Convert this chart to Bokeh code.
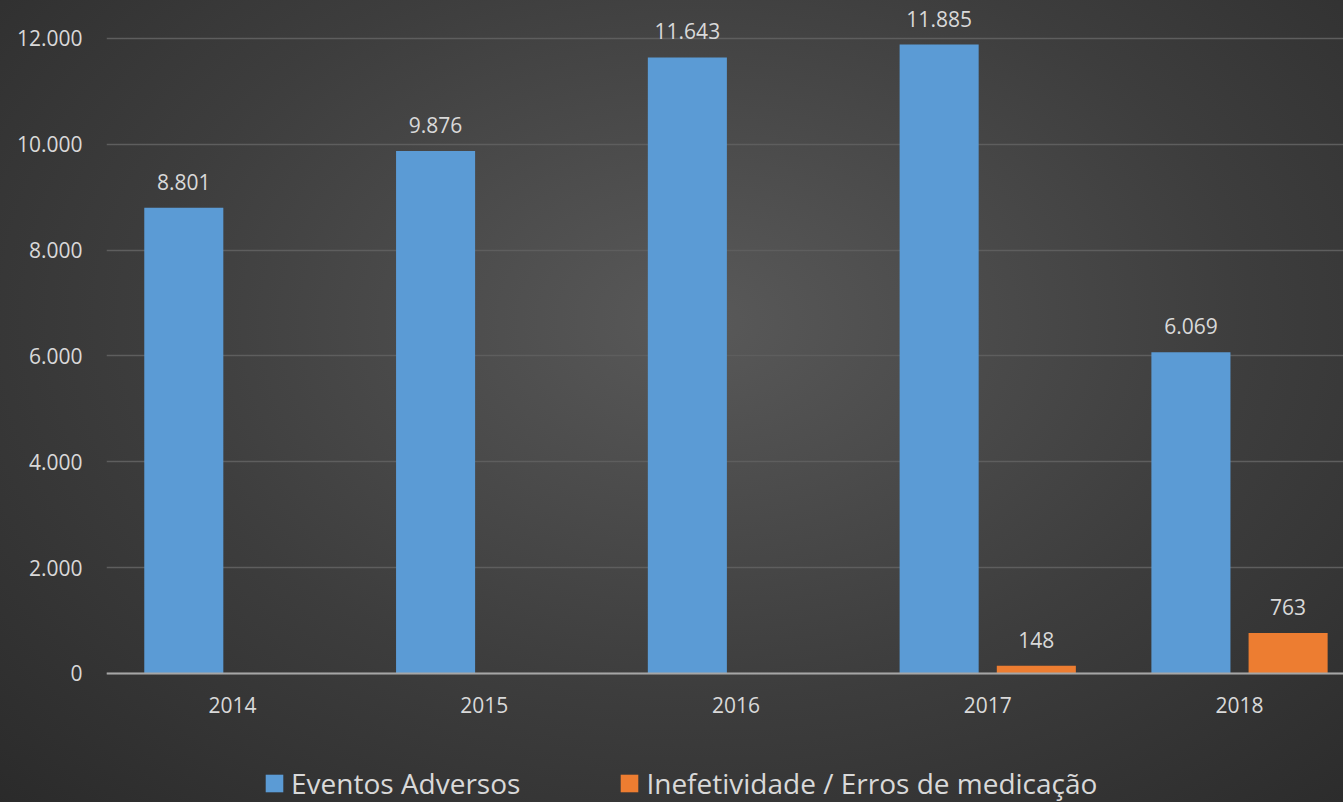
from bokeh.plotting import figure
from bokeh.models import Range1d, FixedTicker, Legend, LegendItem, ColumnDataSource
from bokeh.core.properties import value
from bokeh.embed import file_html
from bokeh.resources import INLINE

years = ["2014", "2015", "2016", "2017", "2018"]
eventos = [8801, 9876, 11643, 11885, 6069]
inefetividade = [0, 0, 0, 148, 763]
y_ticks = [0, 2000, 4000, 6000, 8000, 10000, 12000]
series_names = ["Eventos Adversos", "Inefetividade / Erros de medicação"]

def fmt(v):
    return f"{v:,}".replace(",", ".")

FONT = "Open Sans"
TXT = "#d9d9d9"

xs = list(range(len(years)))
off = 0.193
bw = 0.314

p = figure(width=1343, height=802, output_backend="svg", toolbar_location=None,
           x_range=Range1d(-0.5, 4.413), y_range=Range1d(-2438, 12718),
           min_border_left=106, min_border_right=0, min_border_top=0, min_border_bottom=0)
p.styles = {"background": "radial-gradient(ellipse 75% 85% at 52% 40%, #595959 0%, #3d3d3d 55%, #2a2a2a 100%)"}
p.background_fill_alpha = 0
p.border_fill_alpha = 0
p.outline_line_color = None

src_b = ColumnDataSource(dict(x=[x - off for x in xs], top=eventos, lab=[fmt(v) for v in eventos]))
xo = [x + off for x, v in zip(xs, inefetividade)]
src_o = ColumnDataSource(dict(x=xo, top=inefetividade))
lab_o = ColumnDataSource(dict(x=[x for x, v in zip(xo, inefetividade) if v > 0],
                              top=[v for v in inefetividade if v > 0],
                              lab=[fmt(v) for v in inefetividade if v > 0]))

p.xgrid.grid_line_color = None
p.ygrid.grid_line_color = "#5e5e5e"
p.ygrid.grid_line_width = 1.5

rb = p.vbar(x="x", top="top", width=bw, source=src_b, fill_color="#5b9bd5", line_color=None)
ro = p.vbar(x="x", top="top", width=bw, source=src_o, fill_color="#ed7d31", line_color=None)

for s in (src_b, lab_o):
    p.text(x="x", y="top", text="lab", source=s, text_align="center", text_baseline="alphabetic",
           y_offset=-26, text_color=TXT, text_font=value(FONT), text_font_size="21px")

# axes
p.xaxis.ticker = FixedTicker(ticks=xs)
p.xaxis.major_label_overrides = {x: y for x, y in zip(xs, years)}
p.xaxis.fixed_location = 0
p.yaxis.ticker = FixedTicker(ticks=y_ticks)
p.yaxis.major_label_overrides = {t: fmt(t) for t in y_ticks}
for ax in (p.xaxis[0], p.yaxis[0]):
    ax.major_tick_line_color = None
    ax.minor_tick_line_color = None
    ax.major_label_text_color = TXT
    ax.major_label_text_font = FONT
    ax.major_label_text_font_size = "21px"
p.yaxis.axis_line_color = None
p.yaxis.major_label_standoff = 18
p.xaxis.axis_line_color = "#a6a6a6"
p.xaxis.axis_line_width = 2
p.xaxis.major_label_standoff = 18

legend = Legend(items=[LegendItem(label=series_names[0], renderers=[rb]),
                       LegendItem(label=series_names[1], renderers=[ro])],
                orientation="horizontal", location=(157, 0))
legend.label_text_font = FONT
legend.label_text_font_size = "28px"
legend.label_text_color = TXT
legend.glyph_width = 22
legend.glyph_height = 22
legend.label_standoff = 6
legend.spacing = 98
legend.padding = 0
legend.margin = 0
legend.border_line_color = None
legend.background_fill_alpha = 0
p.add_layout(legend)

open("out.html", "w").write(file_html(p, INLINE))
